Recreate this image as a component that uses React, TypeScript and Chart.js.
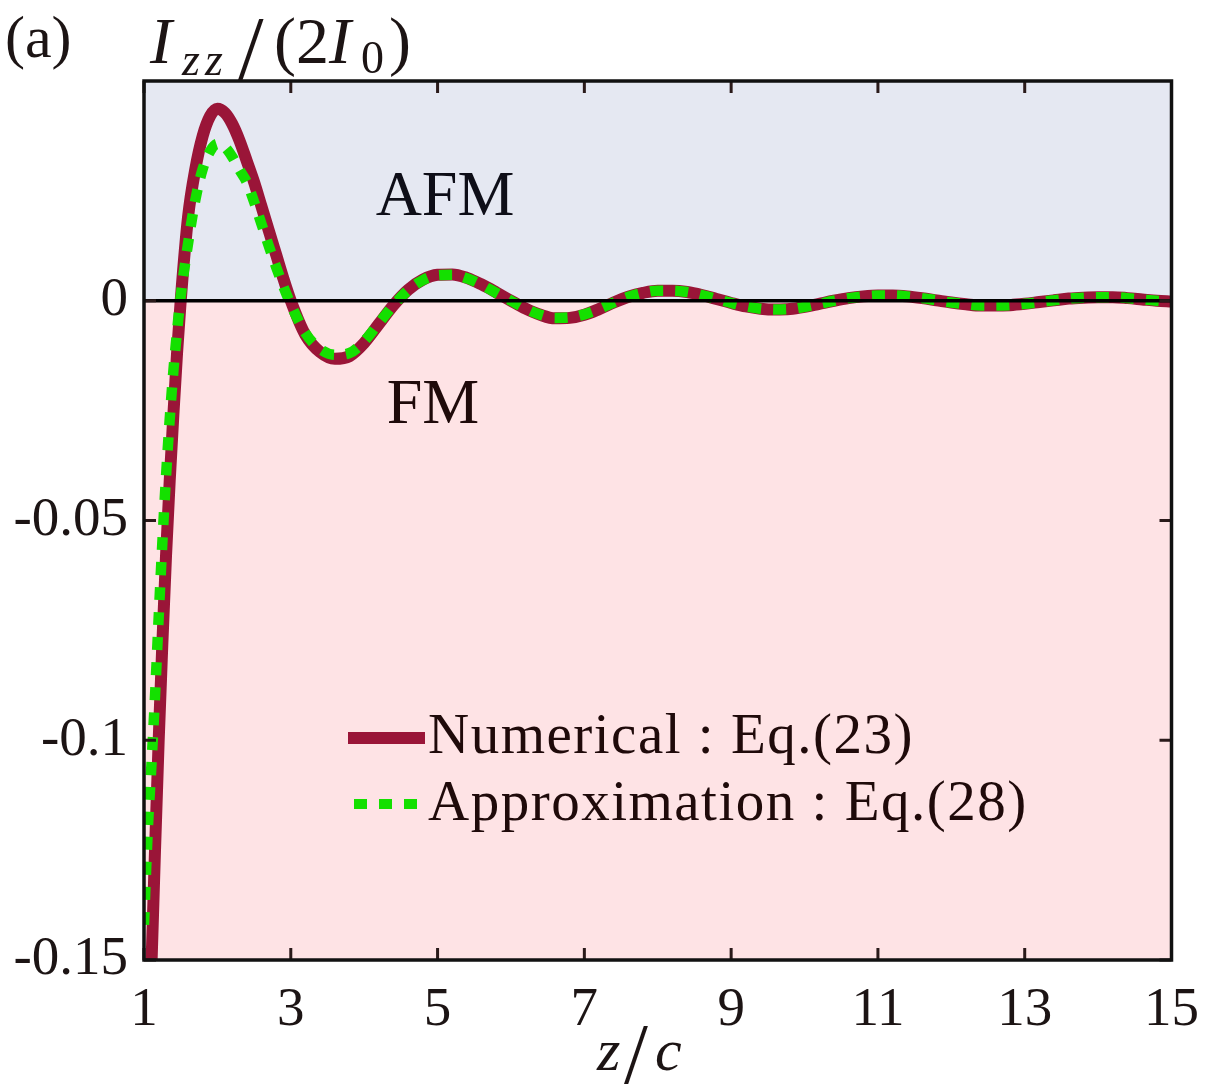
import React, { useEffect, useRef } from "react";
import { Chart, registerables } from "chart.js";

Chart.register(...registerables);

// ---------- data ----------
const zValues = [
  1.0, 1.05, 1.1, 1.15, 1.2, 1.25, 1.3, 1.35, 1.4, 1.45, 1.5, 1.6, 1.7, 1.8, 1.9,
  2.0, 2.1, 2.2, 2.3, 2.4, 2.5, 2.6, 2.7, 2.8, 2.9, 3.0, 3.2, 3.4, 3.6, 3.8,
  4.0, 4.2, 4.4, 4.6, 4.8, 5.0, 5.2, 5.4, 5.6, 5.8, 6.0, 6.2, 6.4, 6.6, 6.8,
  7.0, 7.2, 7.4, 7.6, 7.8, 8.0, 8.2, 8.4, 8.6, 8.8, 9.0, 9.2, 9.4, 9.6, 9.8,
  10.0, 10.2, 10.4, 10.6, 10.8, 11.0, 11.2, 11.4, 11.6, 11.8, 12.0, 12.2, 12.4,
  12.6, 12.8, 13.0, 13.2, 13.4, 13.6, 13.8, 14.0, 14.2, 14.4, 14.6, 14.8, 15.0,
];

const numericalValues = [
  -0.21, -0.18, -0.152, -0.125, -0.1, -0.078, -0.058, -0.041, -0.026, -0.012, 0.0,
  0.019, 0.03, 0.0375, 0.042,
  0.0437, 0.0428, 0.0403, 0.0365, 0.0318, 0.027, 0.0215, 0.016, 0.0105, 0.005, 0.0,
  -0.0078, -0.0117, -0.0132, -0.0126,
  -0.0096, -0.0053, -0.001, 0.0025, 0.0048, 0.0059, 0.006, 0.0052, 0.0037, 0.0019,
  0.0, -0.0018, -0.0032, -0.004, -0.0039,
  -0.0032, -0.0019, -0.0004, 0.0009, 0.0018, 0.0023, 0.0023, 0.002, 0.0013, 0.0004,
  -0.0005, -0.0013, -0.0018, -0.002, -0.0019,
  -0.0014, -0.0007, 0.0, 0.0006, 0.001, 0.0012, 0.0012, 0.001, 0.0006, 0.0001,
  -0.0004, -0.0008, -0.0011,
  -0.0011, -0.001, -0.0007, -0.0003, 0.0001, 0.0005, 0.0007, 0.0008, 0.0008, 0.0006,
  0.0003, 0.0, -0.0002,
];

const approximationValues = [
  -0.142, -0.121, -0.106, -0.09, -0.072, -0.055, -0.04, -0.027, -0.016, -0.007, 0.001,
  0.013, 0.023, 0.03, 0.034,
  0.0357, 0.035, 0.0328, 0.0298, 0.027, 0.0225, 0.0175, 0.0125, 0.0077, 0.0032, -0.0008,
  -0.0074, -0.011, -0.0123, -0.0119,
  -0.0092, -0.0051, -0.001, 0.0024, 0.0047, 0.0058, 0.0059, 0.0051, 0.0036, 0.0018,
  0.0, -0.0018, -0.0032, -0.0039, -0.0038,
  -0.0031, -0.0019, -0.0004, 0.0009, 0.0018, 0.0023, 0.0023, 0.002, 0.0013, 0.0004,
  -0.0005, -0.0013, -0.0018, -0.002, -0.0019,
  -0.0014, -0.0007, 0.0, 0.0006, 0.001, 0.0012, 0.0012, 0.001, 0.0006, 0.0001,
  -0.0004, -0.0008, -0.0011,
  -0.0011, -0.001, -0.0007, -0.0003, 0.0001, 0.0005, 0.0007, 0.0008, 0.0008, 0.0006,
  0.0003, 0.0, -0.0002,
];

const xTickValues = [1, 3, 5, 7, 9, 11, 13, 15];
const yTickValues = [-0.15, -0.1, -0.05, 0];
const xRange = [1, 15];
const yRange = [-0.15, 0.05];
const seriesLabels = ["Numerical : Eq.(23)", "Approximation : Eq.(28)"];
const regionLabels = ["AFM", "FM"];
const panelLabel = "(a)";

// ---------- styles ----------
const SERIF = "'Liberation Serif', 'Times New Roman', serif";
const RED = "#9A1538";
const GREEN = "#14E000";
const AFM_BG = "#E5E8F2";
const FM_BG = "#FEE3E5";
const TEXT = "#1c1414";

const W = 1217;
const H = 1089;

function put(ctx: CanvasRenderingContext2D, text: string, x: number, y: number, size: number, italic = false, align: CanvasTextAlign = "left") {
  ctx.font = `${italic ? "italic " : ""}${size}px ${SERIF}`;
  ctx.textAlign = align;
  ctx.textBaseline = "alphabetic";
  ctx.fillText(text, x, y);
}

const backgroundPlugin = {
  id: "regions",
  beforeDatasetsDraw(chart: any) {
    const { ctx, chartArea, scales } = chart;
    const { left, right, top, bottom } = chartArea;
    const y0 = scales.y.getPixelForValue(0);
    ctx.save();
    ctx.fillStyle = AFM_BG;
    ctx.fillRect(left, top, right - left, y0 - top);
    ctx.fillStyle = FM_BG;
    ctx.fillRect(left, y0, right - left, bottom - y0);
    ctx.restore();
  },
};

const framePlugin = {
  id: "frame",
  afterDatasetsDraw(chart: any) {
    const { ctx, chartArea, scales } = chart;
    const { left, right, top, bottom } = chartArea;
    const y0 = scales.y.getPixelForValue(0);
    ctx.save();
    ctx.strokeStyle = "#000";
    ctx.lineWidth = 3.5;
    ctx.beginPath();
    ctx.moveTo(left, y0);
    ctx.lineTo(right, y0);
    ctx.stroke();
    const tl = 12;
    ctx.strokeStyle = "#2a1a1a";
    ctx.lineWidth = 3;
    ctx.beginPath();
    xTickValues.forEach((v) => {
      const x = scales.x.getPixelForValue(v);
      ctx.moveTo(x, bottom);
      ctx.lineTo(x, bottom - tl);
      ctx.moveTo(x, top);
      ctx.lineTo(x, top + tl);
    });
    yTickValues.forEach((v) => {
      const y = scales.y.getPixelForValue(v);
      ctx.moveTo(left, y);
      ctx.lineTo(left + tl, y);
      ctx.moveTo(right, y);
      ctx.lineTo(right - tl, y);
    });
    ctx.stroke();
    ctx.strokeStyle = "#111";
    ctx.lineWidth = 3.5;
    ctx.strokeRect(left, top, right - left, bottom - top);
    ctx.restore();
  },
};

const textPlugin = {
  id: "texts",
  afterDraw(chart: any) {
    const { ctx } = chart;
    ctx.save();
    ctx.fillStyle = TEXT;
    put(ctx, panelLabel, 5, 57, 60);
    // y title  I_zz/(2I_0)
    put(ctx, "I", 150, 63, 66, true);
    put(ctx, "z", 182, 75, 46, true);
    put(ctx, "z", 205, 75, 46, true);
    put(ctx, "/", 238, 79, 92);
    put(ctx, "(", 274, 63, 66);
    put(ctx, "2", 296, 63, 66);
    put(ctx, "I", 329, 63, 66, true);
    put(ctx, "0", 361, 73, 46);
    put(ctx, ")", 389, 63, 66);
    // x title z/c
    put(ctx, "z", 597, 1070, 60, true);
    put(ctx, "/", 624, 1083, 86);
    put(ctx, "c", 655, 1070, 60, true);
    // regions
    ctx.fillStyle = "#0e0e18";
    put(ctx, regionLabels[0], 445, 215, 64, false, "center");
    ctx.fillStyle = "#1f0a0a";
    put(ctx, regionLabels[1], 433, 423, 64, false, "center");
    // legend
    ctx.lineCap = "butt";
    ctx.strokeStyle = RED;
    ctx.lineWidth = 12;
    ctx.beginPath();
    ctx.moveTo(348, 738);
    ctx.lineTo(425, 738);
    ctx.stroke();
    ctx.strokeStyle = GREEN;
    ctx.lineWidth = 10;
    ctx.setLineDash([13, 12]);
    ctx.beginPath();
    ctx.moveTo(354, 804);
    ctx.lineTo(422, 804);
    ctx.stroke();
    ctx.setLineDash([]);
    ctx.fillStyle = "#1f0a0a";
    (ctx as any).letterSpacing = "1.5px";
    put(ctx, seriesLabels[0], 428, 753, 57);
    put(ctx, seriesLabels[1], 428, 820, 57);
    (ctx as any).letterSpacing = "0px";
    ctx.restore();
  },
};

export default function App() {
  const ref = useRef<HTMLCanvasElement>(null);

  useEffect(() => {
    if (!ref.current) return;
    const numerical = zValues.map((z, i) => ({ x: z, y: numericalValues[i] }));
    const approx = zValues.map((z, i) => ({ x: z, y: approximationValues[i] }));
    const chart = new Chart(ref.current, {
      type: "line",
      data: {
        datasets: [
          {
            label: seriesLabels[0],
            data: numerical,
            borderColor: RED,
            borderWidth: 12,
            pointRadius: 0,
            tension: 0.4,
            cubicInterpolationMode: "monotone",
            borderCapStyle: "butt",
            borderJoinStyle: "round",
            fill: false,
            order: 2,
          },
          {
            label: seriesLabels[1],
            data: approx,
            borderColor: GREEN,
            borderWidth: 10.5,
            borderDash: [13, 12],
            pointRadius: 0,
            tension: 0.4,
            cubicInterpolationMode: "monotone",
            borderCapStyle: "butt",
            fill: false,
            order: 1,
          },
        ],
      },
      options: {
        animation: false,
        responsive: false,
        devicePixelRatio: 1,
        layout: { padding: { top: 81, right: 41, left: 0, bottom: 0 } },
        plugins: { legend: { display: false }, tooltip: { enabled: false }, title: { display: false } },
        scales: {
          x: {
            type: "linear",
            min: xRange[0],
            max: xRange[1],
            afterBuildTicks: (scale: any) => {
              scale.ticks = xTickValues.map((v) => ({ value: v }));
            },
            afterFit: (scale: any) => {
              scale.height = H - 960;
            },
            grid: { display: false, drawTicks: false, tickLength: 0 },
            border: { display: false },
            ticks: {
              autoSkip: false,
              maxRotation: 0,
              padding: 18,
              color: TEXT,
              font: { family: SERIF, size: 55 },
              callback: (v: any) => String(v),
            },
          },
          y: {
            type: "linear",
            min: yRange[0],
            max: yRange[1],
            afterBuildTicks: (scale: any) => {
              scale.ticks = yTickValues.map((v) => ({ value: v }));
            },
            afterFit: (scale: any) => {
              scale.width = 144;
            },
            grid: { display: false, drawTicks: false, tickLength: 0 },
            border: { display: false },
            ticks: {
              autoSkip: false,
              padding: 16,
              color: TEXT,
              font: { family: SERIF, size: 55 },
              callback: (v: any) => String(Number(Number(v).toFixed(2))),
            },
          },
        },
      },
      plugins: [backgroundPlugin, framePlugin, textPlugin],
    } as any);
    return () => chart.destroy();
  }, []);

  return (
    <div style={{ position: "absolute", left: 0, top: 0, width: W, height: H, background: "#fff" }}>
      <canvas ref={ref} width={W} height={H} style={{ display: "block" }} />
    </div>
  );
}
